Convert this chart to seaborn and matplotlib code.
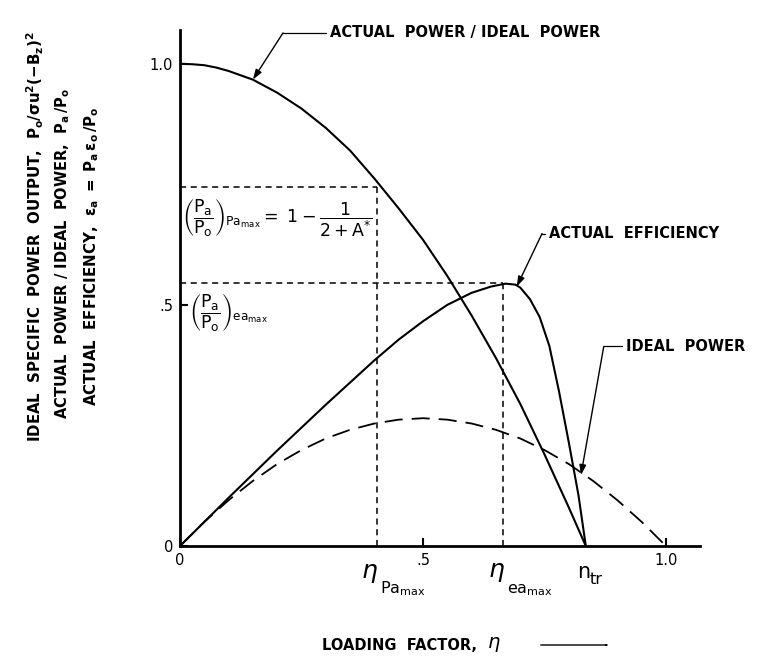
import numpy as np
import pandas as pd
import matplotlib
matplotlib.use("Agg")
import matplotlib.pyplot as plt
import seaborn as sns

sns.set_style("ticks")
plt.rcParams["font.family"] = ["DejaVu Sans"]
plt.rcParams["mathtext.fontset"] = "dejavusans"
plt.rcParams["mathtext.default"] = "regular"
for k in ["text.color", "axes.labelcolor", "xtick.color", "ytick.color", "axes.edgecolor"]:
    plt.rcParams[k] = "black"

# ---- data ----
eta_power = [0, .025, .05, .075, .10, .15, .20, .25, .30, .35, .40, .45, .50, .55, .60, .65, .70, .75, .80, .835]
power_ratio = [1.0, .999, .997, .992, .985, .967, .940, .907, .867, .820, .762, .700, .635, .560, .478, .390, .295, .190, .080, 0.0]

eta_eff = [0, .10, .20, .30, .40, .45, .50, .55, .60, .64, .67, .69, .70, .72, .74, .76, .78, .80, .82, .835]
efficiency = [0, .100, .198, .293, .385, .428, .466, .500, .525, .538, .544, .542, .536, .512, .475, .415, .320, .215, .105, 0.0]

eta_ideal = [0, .05, .10, .15, .20, .25, .30, .35, .40, .45, .50, .55, .60, .65, .70, .75, .80, .85, .90, .95, 1.0]
ideal_power = [0, .050, .095, .135, .170, .199, .223, .241, .254, .262, .265, .262, .254, .241, .223, .199, .170, .135, .095, .050, 0]

eta_pa_max = 0.405      # loading factor at max actual power
pa_ratio_at_pmax = 0.745
eta_ea_max = 0.665      # loading factor at max efficiency
pa_ratio_at_emax = 0.545
eta_tr = 0.835

x_ticks = [0, 0.5, 1.0]
x_ticklabels = ["0", ".5", "1.0"]
y_ticks = [0, 0.5, 1.0]
y_ticklabels = ["0", ".5", "1.0"]

# ---- figure ----
fig = plt.figure(figsize=(7.66, 6.59), dpi=100)
ax = fig.add_axes([180 / 766, 1 - 546 / 659, 520 / 766, 516 / 659])

df_p = pd.DataFrame({"eta": eta_power, "v": power_ratio})
df_e = pd.DataFrame({"eta": eta_eff, "v": efficiency})
df_i = pd.DataFrame({"eta": eta_ideal, "v": ideal_power})

sns.lineplot(data=df_p, x="eta", y="v", ax=ax, color="black", lw=1.5, sort=False)
sns.lineplot(data=df_e, x="eta", y="v", ax=ax, color="black", lw=1.5, sort=False)
sns.lineplot(data=df_i, x="eta", y="v", ax=ax, color="black", lw=1.3, sort=False,
             linestyle=(0, (10, 5)))

# dashed construction lines
dash = (0, (4, 3))
ax.plot([0, eta_pa_max], [pa_ratio_at_pmax, pa_ratio_at_pmax], color="black", lw=1.1, ls=dash)
ax.plot([eta_pa_max, eta_pa_max], [0, pa_ratio_at_pmax], color="black", lw=1.1, ls=dash)
ax.plot([0, eta_ea_max], [pa_ratio_at_emax, pa_ratio_at_emax], color="black", lw=1.1, ls=dash)
ax.plot([eta_ea_max, eta_ea_max], [0, pa_ratio_at_emax], color="black", lw=1.1, ls=dash)

ax.set_xlim(0, 1.07)
ax.set_ylim(0, 1.07)
ax.set_xlabel("")
ax.set_ylabel("")
ax.set_xticks(x_ticks)
ax.set_xticklabels(x_ticklabels)
ax.set_yticks(y_ticks)
ax.set_yticklabels(y_ticklabels)
ax.tick_params(direction="in", length=6, width=1.5, labelsize=10.5, pad=5, color="black",
               labelcolor="black")
for s in ["top", "right"]:
    ax.spines[s].set_visible(False)
for s in ["left", "bottom"]:
    ax.spines[s].set_linewidth(2)
    ax.spines[s].set_color("black")

# leader labels
def leader(text, corner, tip, text_x):
    ax.plot([corner[0], text_x - 0.008], [corner[1], corner[1]], color="black", lw=0.9,
            clip_on=False)
    ax.annotate("", xy=tip, xytext=corner,
                arrowprops=dict(arrowstyle="-|>,head_length=0.6,head_width=0.2",
                                color="black", lw=1.0, shrinkA=0, shrinkB=0),
                annotation_clip=False)
    ax.text(text_x, corner[1], text, ha="left", va="center", fontsize=10.5,
            fontweight="bold", clip_on=False)

i_p = 5
leader("ACTUAL  POWER / IDEAL  POWER", (0.212, 1.064), (eta_power[i_p], power_ratio[i_p]), 0.309)
leader("ACTUAL  EFFICIENCY", (0.745, 0.648), (0.693, 0.538), 0.760)
leader("IDEAL  POWER", (0.872, 0.414), (0.825, 0.147), 0.918)

# formula annotations
ax.text(0.004, 0.679,
        r"$\left(\dfrac{P_a}{P_o}\right)_{Pa_{max}} = \ 1 - \dfrac{1}{2 + A^{*}}$",
        ha="left", va="center", fontsize=12.5)
ax.text(0.018, 0.482, r"$\left(\dfrac{P_a}{P_o}\right)_{ea_{max}}$",
        ha="left", va="center", fontsize=12.5)

# special x labels: (x, main glyph, subscript, main offset px, sub offset px, main size)
PX = 72 / 100  # points per pixel
specials = [
    (eta_pa_max, r"$\mathit{\eta}$", r"$Pa_{max}$", (-16, -15), (3, -33), 18),
    (eta_ea_max, r"$\mathit{\eta}$", r"$ea_{max}$", (-15, -14), (4, -36), 18),
    (eta_tr, "n", "tr", (-9, -16), (4, -26), 15),
]
for xv, main, sub, (mx, my), (sx, sy), fs in specials:
    ax.annotate(main, xy=(xv, 0), xycoords=("data", "axes fraction"),
                xytext=(mx * PX, my * PX), textcoords="offset points",
                ha="left", va="top", fontsize=fs, annotation_clip=False)
    ax.annotate(sub, xy=(xv, 0), xycoords=("data", "axes fraction"),
                xytext=(sx * PX, sy * PX), textcoords="offset points",
                ha="left", va="top", fontsize=11.5, annotation_clip=False)

# x-axis title
fig.text(322 / 766, 1 - 646 / 659, "LOADING  FACTOR,", ha="left", va="center",
         fontsize=10.5, fontweight="bold")
fig.text(487 / 766, 1 - 645 / 659, r"$\mathit{\eta}$", ha="left", va="center", fontsize=14)
fig.add_artist(matplotlib.patches.FancyArrowPatch(
    (538 / 766, 1 - 645 / 659), (612 / 766, 1 - 645 / 659), transform=fig.transFigure,
    arrowstyle="-|>,head_length=0.8,head_width=0.25", color="black", lw=1.0))

ylines = [
    (35, 237, r"IDEAL  SPECIFIC  POWER  OUTPUT,  $P_o/\sigma u^2(-B_z)^2$", 10.8),
    (63, 254, r"ACTUAL  POWER / IDEAL  POWER,  $P_a\,/P_o$", 10.5),
    (92, 256, r"ACTUAL  EFFICIENCY,  $\varepsilon_a\ =\ P_a\,\varepsilon_o\,/P_o$", 10.8),
]
for xp, yp, t, fs in ylines:
    fig.text(xp / 766, 1 - yp / 659, t, rotation=90, ha="center", va="center",
             fontsize=fs, fontweight="bold")

fig.savefig("out.png", dpi=100, facecolor="white")
